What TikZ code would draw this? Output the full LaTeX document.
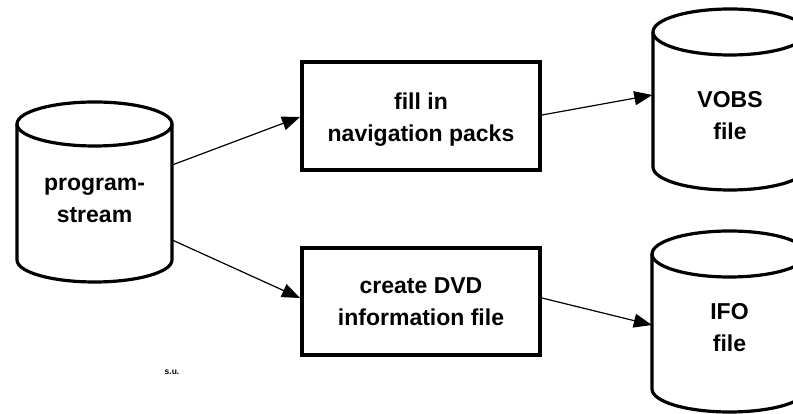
\documentclass[tikz,border=0pt]{standalone}
\usepackage{fontspec}
\setmainfont{Liberation Sans}
\usetikzlibrary{arrows.meta}
\newcommand\cylshape[5]{%
  \draw[cylline] ({(#1+#2)/2},#3) ellipse[x radius={(#2-#1)/2}, y radius=#5];
  \draw[cylline] (#1,#3) -- (#1,#4) arc[start angle=180,end angle=360,x radius={(#2-#1)/2},y radius=#5] -- (#2,#3);}
\begin{document}
\begin{tikzpicture}[x=1pt,y=1pt,
  cylline/.style={line width=3.2pt},
  lbl/.style={font=\bfseries\fontsize{23}{32}\selectfont, align=center},
  cylnode/.style={lbl, inner sep=0pt, minimum width=155pt, minimum height=150pt},
  procbox/.style={lbl, draw, line width=4pt, minimum width=238pt},
  arr/.style={line width=1.2pt, -{Triangle[length=18pt,width=14pt]}}]
\useasboundingbox (0,0) rectangle (793,414);
\clip (0,0) rectangle (793,414);
% cylinders
\cylshape{17}{172}{290}{154}{22}
\cylshape{653}{807}{382}{247}{23}
\cylshape{652}{807}{160}{25}{23}
% nodes
\node[cylnode] (prog) at (94.5,214) {program-\\stream};
\node[procbox, minimum height=108pt] (fill) at (421,298) {};
\node[lbl] (filltxt) at ([yshift=-4pt]fill.center) {fill in\\navigation packs};
\node[procbox, minimum height=107pt] (create) at (421,112.5) {create DVD\\information file};
\node[cylnode] (vobs) at (730,298) {VOBS\\file};
\node[cylnode] (ifo) at (729.5,86) {IFO\\file};
\node[font=\bfseries\fontsize{8.5}{8.5}\selectfont] (su) at (172,42) {s.u.};
% connectors
\draw[arr] ([yshift=35pt]prog.east) -- ([yshift=-1pt]fill.west);
\draw[arr] ([yshift=-40pt]prog.east) -- ([yshift=3.5pt]create.west);
\draw[arr] ([yshift=1pt]fill.east) -- ([yshift=21pt]vobs.west);
\draw[arr] ([yshift=3.5pt]create.east) -- ([yshift=3pt]ifo.west);
\end{tikzpicture}
\end{document}
